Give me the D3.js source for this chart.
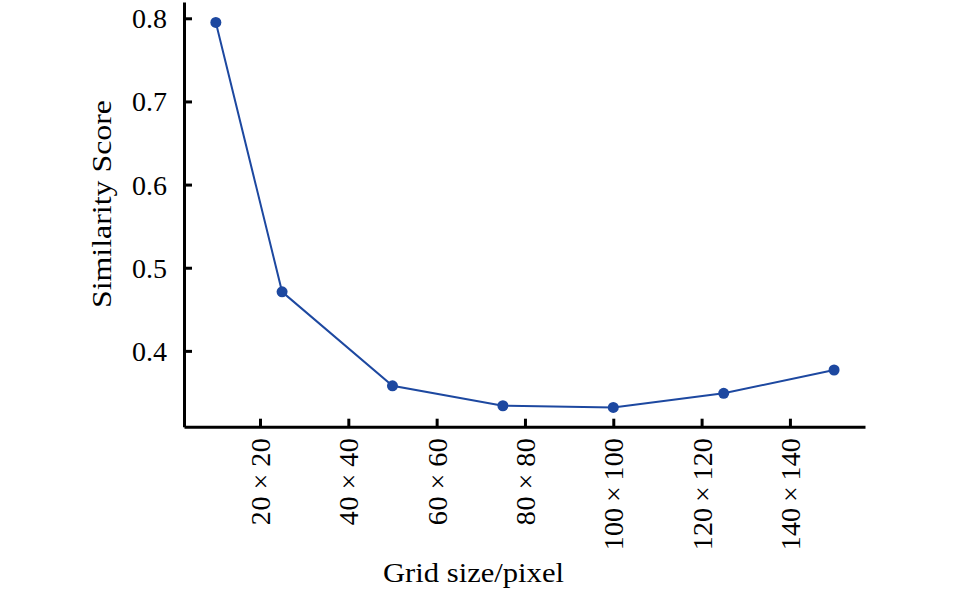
<!DOCTYPE html>
<html>
<head>
<meta charset="utf-8">
<script src="https://cdn.jsdelivr.net/npm/d3@7"></script>
<style>
  html, body { margin: 0; padding: 0; background: #fff; }
  svg { display: block; }
  svg text { font-family: "Liberation Serif", "DejaVu Serif", "Noto Serif", serif !important; fill: #000; }
</style>
</head>
<body>
<svg id="chart" width="957" height="591"></svg>
<script>
// ---- data ----
const gridSizes = [10, 25, 50, 75, 100, 125, 150];
const scores = [0.795, 0.471, 0.358, 0.334, 0.332, 0.349, 0.377];
const xTickValues = [20, 40, 60, 80, 100, 120, 140];
const xTickLabels = ["20\u2009\u00d7\u200920", "40\u2009\u00d7\u200940", "60\u2009\u00d7\u200960", "80\u2009\u00d7\u200980",
                     "100\u2009\u00d7\u2009100", "120\u2009\u00d7\u2009120", "140\u2009\u00d7\u2009140"];
const yTickValues = [0.4, 0.5, 0.6, 0.7, 0.8];
const yTickLabels = ["0.4", "0.5", "0.6", "0.7", "0.8"];
const xTitle = "Grid size/pixel";
const yTitle = "Similarity Score";

// ---- layout ----
const svg = d3.select("#chart");
const plotLeft = 184, plotRight = 865, plotTop = 2, plotBottom = 426.7;
const color = "#1d48a0";
const fontSize = 28;

const x = d3.scaleLinear().domain([2.79, 157.0]).range([plotLeft, plotRight]);
const y = d3.scaleLinear().domain([0.3088, 0.8196]).range([plotBottom, plotTop]);

// line + markers
const pts = gridSizes.map((g, i) => ({ g, s: scores[i] }));
svg.append("path")
  .datum(pts)
  .attr("fill", "none")
  .attr("stroke", color)
  .attr("stroke-width", 2)
  .attr("d", d3.line().x(d => x(d.g)).y(d => y(d.s)));
svg.append("g").selectAll("circle")
  .data(pts).join("circle")
  .attr("cx", d => x(d.g))
  .attr("cy", d => y(d.s))
  .attr("r", 5.5)
  .attr("fill", color);

// y axis
const yAxis = svg.append("g")
  .attr("transform", `translate(${plotLeft},0)`)
  .call(d3.axisLeft(y)
    .tickValues(yTickValues)
    .tickFormat((d, i) => yTickLabels[i])
    .tickSizeInner(-8).tickSizeOuter(0).tickPadding(17));
yAxis.attr("font-family", null);
yAxis.select(".domain").attr("stroke", "#000").attr("stroke-width", 3);
yAxis.selectAll(".tick line").attr("stroke", "#000").attr("stroke-width", 3);
yAxis.selectAll(".tick text")
  .attr("font-size", fontSize)
  .attr("dy", null)
  .attr("y", 9.5);

// x axis
const xAxis = svg.append("g")
  .attr("transform", `translate(0,${plotBottom})`)
  .call(d3.axisBottom(x)
    .tickValues(xTickValues)
    .tickFormat((d, i) => xTickLabels[i])
    .tickSizeInner(-8).tickSizeOuter(0));
xAxis.attr("font-family", null);
xAxis.select(".domain").attr("stroke", "#000").attr("stroke-width", 3);
xAxis.selectAll(".tick line").attr("stroke", "#000").attr("stroke-width", 3);
xAxis.selectAll(".tick text")
  .attr("font-size", fontSize)
  .attr("dy", null)
  .attr("transform", "rotate(-90)")
  .attr("text-anchor", "end")
  .attr("x", -11.5)
  .attr("y", 9.5)
  .attr("textLength", (d, i) => xTickLabels[i].length > 7 ? 112 : 87)
  .attr("lengthAdjust", "spacing");

// titles
svg.append("text")
  .attr("x", 473.5)
  .attr("y", 582)
  .attr("text-anchor", "middle")
  .attr("font-size", fontSize)
  .attr("textLength", 181)
  .attr("lengthAdjust", "spacingAndGlyphs")
  .text(xTitle);

svg.append("text")
  .attr("transform", "translate(111,204) rotate(-90)")
  .attr("text-anchor", "middle")
  .attr("font-size", fontSize)
  .attr("textLength", 208)
  .attr("lengthAdjust", "spacingAndGlyphs")
  .text(yTitle);
</script>
</body>
</html>
